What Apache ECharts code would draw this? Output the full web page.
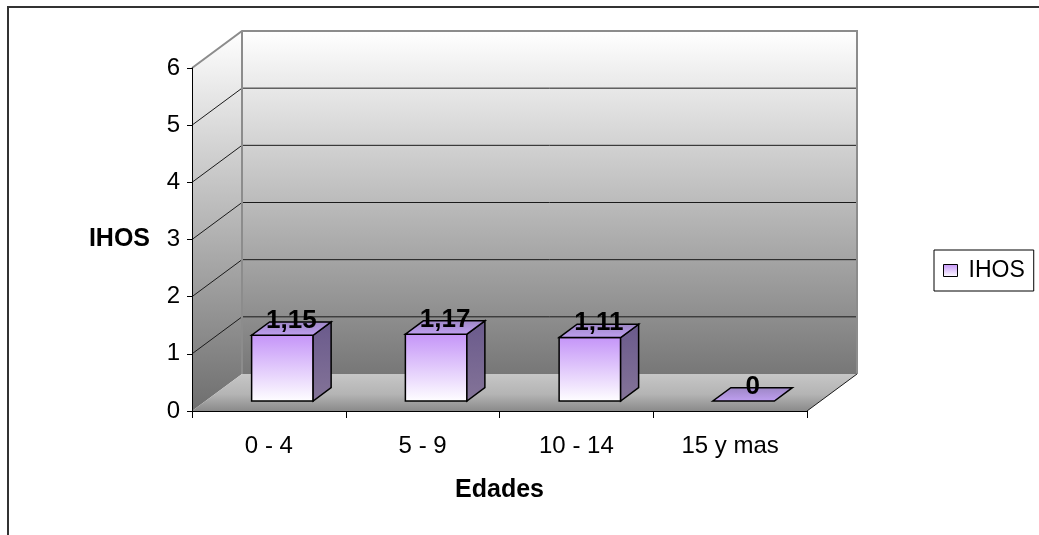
<!DOCTYPE html>
<html>
<head>
<meta charset="utf-8">
<script src="https://cdn.jsdelivr.net/npm/echarts@6/dist/echarts.min.js"></script>
<style>
  html, body { margin: 0; padding: 0; background: #ffffff; }
  #chart { width: 1039px; height: 535px; }
</style>
</head>
<body>
<div id="chart"></div>
<script>
// Age groups and IHOS index per group
const categories = ['0 - 4', '5 - 9', '10 - 14', '15 y mas'];
const ihosValues = [1.15, 1.17, 1.11, 0];
const yMin = 0, yMax = 6, yStep = 1;

// Perspective offset of the back wall relative to the front axis plane
const DX = 50, DY = -37;
// Bars sit between these depth fractions
const BAR_FRONT = 0.27, BAR_BACK = 0.63;
const FONT = 'Arial, "Liberation Sans", sans-serif';

function shift(p, t) { return [p[0] + DX * t, p[1] + DY * t]; }
function fmt(v) { return String(v).replace('.', ','); }

const chart = echarts.init(document.getElementById('chart'), null, { renderer: 'canvas' });

// Walls, floor and gridlines of the 3D box
function renderBox(params, api) {
  const cs = params.coordSys;
  const x0 = cs.x, x1 = cs.x + cs.width;
  const yB = api.coord([0, yMin])[1];
  const yT = api.coord([0, yMax])[1];
  const children = [];

  // left side wall
  children.push({
    type: 'polygon',
    shape: { points: [[x0, yT], shift([x0, yT], 1), shift([x0, yB], 1), [x0, yB]] },
    style: { fill: new echarts.graphic.LinearGradient(0, 0, 0, 1, [
      { offset: 0, color: '#ffffff' }, { offset: 1, color: '#6e6e6e' }]) }
  });
  // back wall
  children.push({
    type: 'polygon',
    shape: { points: [shift([x0, yT], 1), shift([x1, yT], 1), shift([x1, yB], 1), shift([x0, yB], 1)] },
    style: { fill: new echarts.graphic.LinearGradient(0, 0, 0, 1, [
      { offset: 0, color: '#ffffff' }, { offset: 1, color: '#777777' }]) }
  });
  // floor
  children.push({
    type: 'polygon',
    shape: { points: [[x0, yB], [x1, yB], shift([x1, yB], 1), shift([x0, yB], 1)] },
    style: { fill: new echarts.graphic.LinearGradient(0, 0, 0, 1, [
      { offset: 0, color: '#c6c6c6' }, { offset: 0.55, color: '#b4b4b4' }, { offset: 1, color: '#8a8a8a' }]) }
  });
  // gridlines on the back and side wall
  for (let v = yMin + yStep; v < yMax; v += yStep) {
    const y = api.coord([0, v])[1];
    children.push({
      type: 'polyline',
      shape: { points: [[x0, y], shift([x0, y], 1), shift([x1, y], 1)] },
      style: { stroke: '#1a1a1a', lineWidth: 1, fill: null }
    });
  }
  // gray outline edges of the walls
  children.push({
    type: 'polyline',
    shape: { points: [[x0, yT], shift([x0, yT], 1), shift([x1, yT], 1), shift([x1, yB], 1)] },
    style: { stroke: '#8c8c8c', lineWidth: 2, fill: null }
  });
  children.push({
    type: 'line',
    shape: { x1: x0 + DX, y1: yT + DY, x2: x0 + DX, y2: yB + DY },
    style: { stroke: '#8c8c8c', lineWidth: 2 }
  });
  // right edge of floor
  children.push({
    type: 'line',
    shape: { x1: x1, y1: yB, x2: x1 + DX, y2: yB + DY },
    style: { stroke: '#1a1a1a', lineWidth: 1 }
  });
  return { type: 'group', children: children };
}

// One 3D bar per category
function renderBar(params, api) {
  const idx = api.value(0);
  const v = api.value(1);
  const base = api.coord([idx, 0]);
  const top = api.coord([idx, v]);
  const w = api.size([1, 0])[0] * 0.40;
  const xl = base[0] - w / 2, xr = base[0] + w / 2;
  const ft = (x, y) => shift([x, y], BAR_FRONT);
  const bk = (x, y) => shift([x, y], BAR_BACK);
  const outline = { stroke: '#000000', lineWidth: 1.5 };
  const children = [];

  if (top[1] < base[1] - 0.5) {
    children.push({
      type: 'polygon',
      shape: { points: [ft(xl, top[1]), ft(xr, top[1]), ft(xr, base[1]), ft(xl, base[1])] },
      style: Object.assign({ fill: new echarts.graphic.LinearGradient(0, 0, 0, 1, [
        { offset: 0, color: '#c494f8' }, { offset: 1, color: '#ffffff' }]) }, outline)
    });
    children.push({
      type: 'polygon',
      shape: { points: [ft(xr, top[1]), bk(xr, top[1]), bk(xr, base[1]), ft(xr, base[1])] },
      style: Object.assign({ fill: new echarts.graphic.LinearGradient(0, 0, 0, 1, [
        { offset: 0, color: '#6a5a8c' }, { offset: 1, color: '#847498' }]) }, outline)
    });
  }
  children.push({
    type: 'polygon',
    shape: { points: [ft(xl, top[1]), ft(xr, top[1]), bk(xr, top[1]), bk(xl, top[1])] },
    style: Object.assign({ fill: new echarts.graphic.LinearGradient(0, 1, 0, 0, [
      { offset: 0, color: '#c0a0f2' }, { offset: 1, color: '#9c86c4' }]) }, outline)
  });
  const c = shift([base[0], top[1]], (BAR_FRONT + BAR_BACK) / 2);
  children.push({
    type: 'text',
    style: {
      text: fmt(v), x: c[0], y: c[1] - 8,
      align: 'center', verticalAlign: 'middle',
      font: 'bold 26px ' + FONT, fill: '#000000'
    },
    z2: 10
  });
  return { type: 'group', children: children };
}

chart.setOption({
  animation: false,
  backgroundColor: '#ffffff',
  grid: { left: 192, top: 68, right: 232, bottom: 124, containLabel: false },
  legend: {
    data: ['IHOS'],
    left: 934, top: 250,
    orient: 'vertical',
    padding: [9, 9, 9, 9],
    backgroundColor: '#ffffff',
    borderColor: '#000000', borderWidth: 1, borderRadius: 0,
    icon: 'rect', itemWidth: 14, itemHeight: 12, itemGap: 6,
    itemStyle: {
      color: new echarts.graphic.LinearGradient(0, 0, 0, 1, [
        { offset: 0, color: '#c494f8' }, { offset: 1, color: '#ffffff' }]),
      borderColor: '#000000', borderWidth: 1
    },
    textStyle: { fontFamily: FONT, fontSize: 23, color: '#000000', padding: [0, 0, 0, 6] }
  },
  xAxis: {
    type: 'category',
    data: categories,
    z: 5,
    boundaryGap: true,
    name: 'Edades',
    nameLocation: 'middle',
    nameGap: 67,
    nameTextStyle: { fontFamily: FONT, fontSize: 25, fontWeight: 'bold', color: '#000000' },
    axisLine: { lineStyle: { color: '#000000', width: 1 } },
    axisTick: { show: true, length: 7, interval: 0, lineStyle: { color: '#000000' } },
    axisLabel: { fontFamily: FONT, fontSize: 24, color: '#000000', margin: 23, interval: 0 },
    splitLine: { show: false }
  },
  yAxis: {
    type: 'value',
    min: yMin, max: yMax, interval: yStep,
    z: 5,
    name: 'IHOS',
    nameLocation: 'middle',
    nameRotate: 0,
    nameGap: 42,
    nameTextStyle: { fontFamily: FONT, fontSize: 25, fontWeight: 'bold', color: '#000000', align: 'right', padding: [4, 0, 0, 0] },
    axisLine: { show: true, lineStyle: { color: '#000000', width: 1 } },
    axisTick: { show: true, length: 5, lineStyle: { color: '#000000' } },
    axisLabel: { fontFamily: FONT, fontSize: 24, color: '#000000', margin: 12 },
    splitLine: { show: false }
  },
  graphic: [{
    type: 'rect',
    shape: { x: 8, y: 7, width: 1200, height: 700 },
    style: { fill: null, stroke: '#333333', lineWidth: 2 },
    silent: true
  }],
  series: [
    {
      name: 'box',
      type: 'custom',
      renderItem: renderBox,
      data: [[0, 0]],
      clip: false,
      silent: true,
      z: 1
    },
    {
      name: 'IHOS',
      type: 'custom',
      renderItem: renderBar,
      data: ihosValues.map((v, i) => [i, v]),
      encode: { x: 0, y: 1 },
      clip: false,
      z: 3
    }
  ]
});
</script>
</body>
</html>
